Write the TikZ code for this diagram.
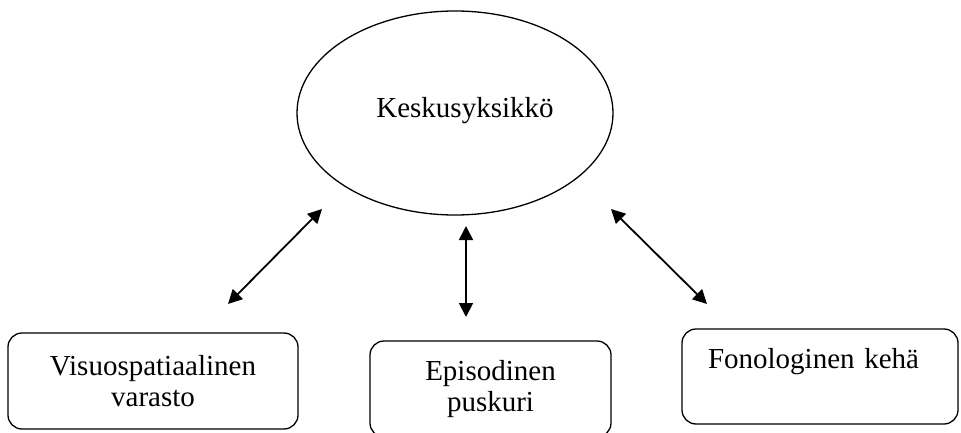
\documentclass[tikz,border=0pt]{standalone}
\usepackage{fontspec}
\setmainfont{Liberation Serif}
\usetikzlibrary{shapes.geometric,arrows.meta}
\begin{document}
\begin{tikzpicture}[<->, >={Triangle[length=14pt,width=14pt]}, x=1pt, y=-1pt, line width=1.3pt,
    main node/.style={ellipse, draw, minimum width=316pt, minimum height=204pt, inner sep=0pt},
    box node/.style={rectangle, draw, rounded corners=14pt, inner sep=0pt}]
        \tikzstyle{every node}=[font=\fontsize{29}{31}\selectfont]
        \useasboundingbox (0,0) rectangle (961,433);

          \node[main node, text depth=12pt] (1) at (455,113) {\hspace*{20pt}Keskusyksikkö};
          \node[box node, align=center, minimum width=290pt, minimum height=96pt] (2) at (153,381) {Visuospatiaalinen\\varasto};
          \node[box node, align=center, minimum width=241pt, minimum height=96pt] (3) at (490.5,389) {Episodinen\\puskuri};
          \node[box node, align=left, text width=224pt, text height=20pt, text depth=37pt,
                minimum width=276pt, minimum height=95pt] (4) at (820,376.5) {Fonologinen kehä};

          % arrow ends
          \coordinate (2a) at (228,304);
          \coordinate (2b) at (322,209);
          \coordinate (3a) at (466,317);
          \coordinate (3b) at (466,226);
          \coordinate (4a) at (707,304);
          \coordinate (4b) at (611,209);

          \path[line width=1.8pt]
            (2a) edge (2b)
            (3a) edge (3b)
            (4a) edge (4b);

        \end{tikzpicture}
\end{document}
